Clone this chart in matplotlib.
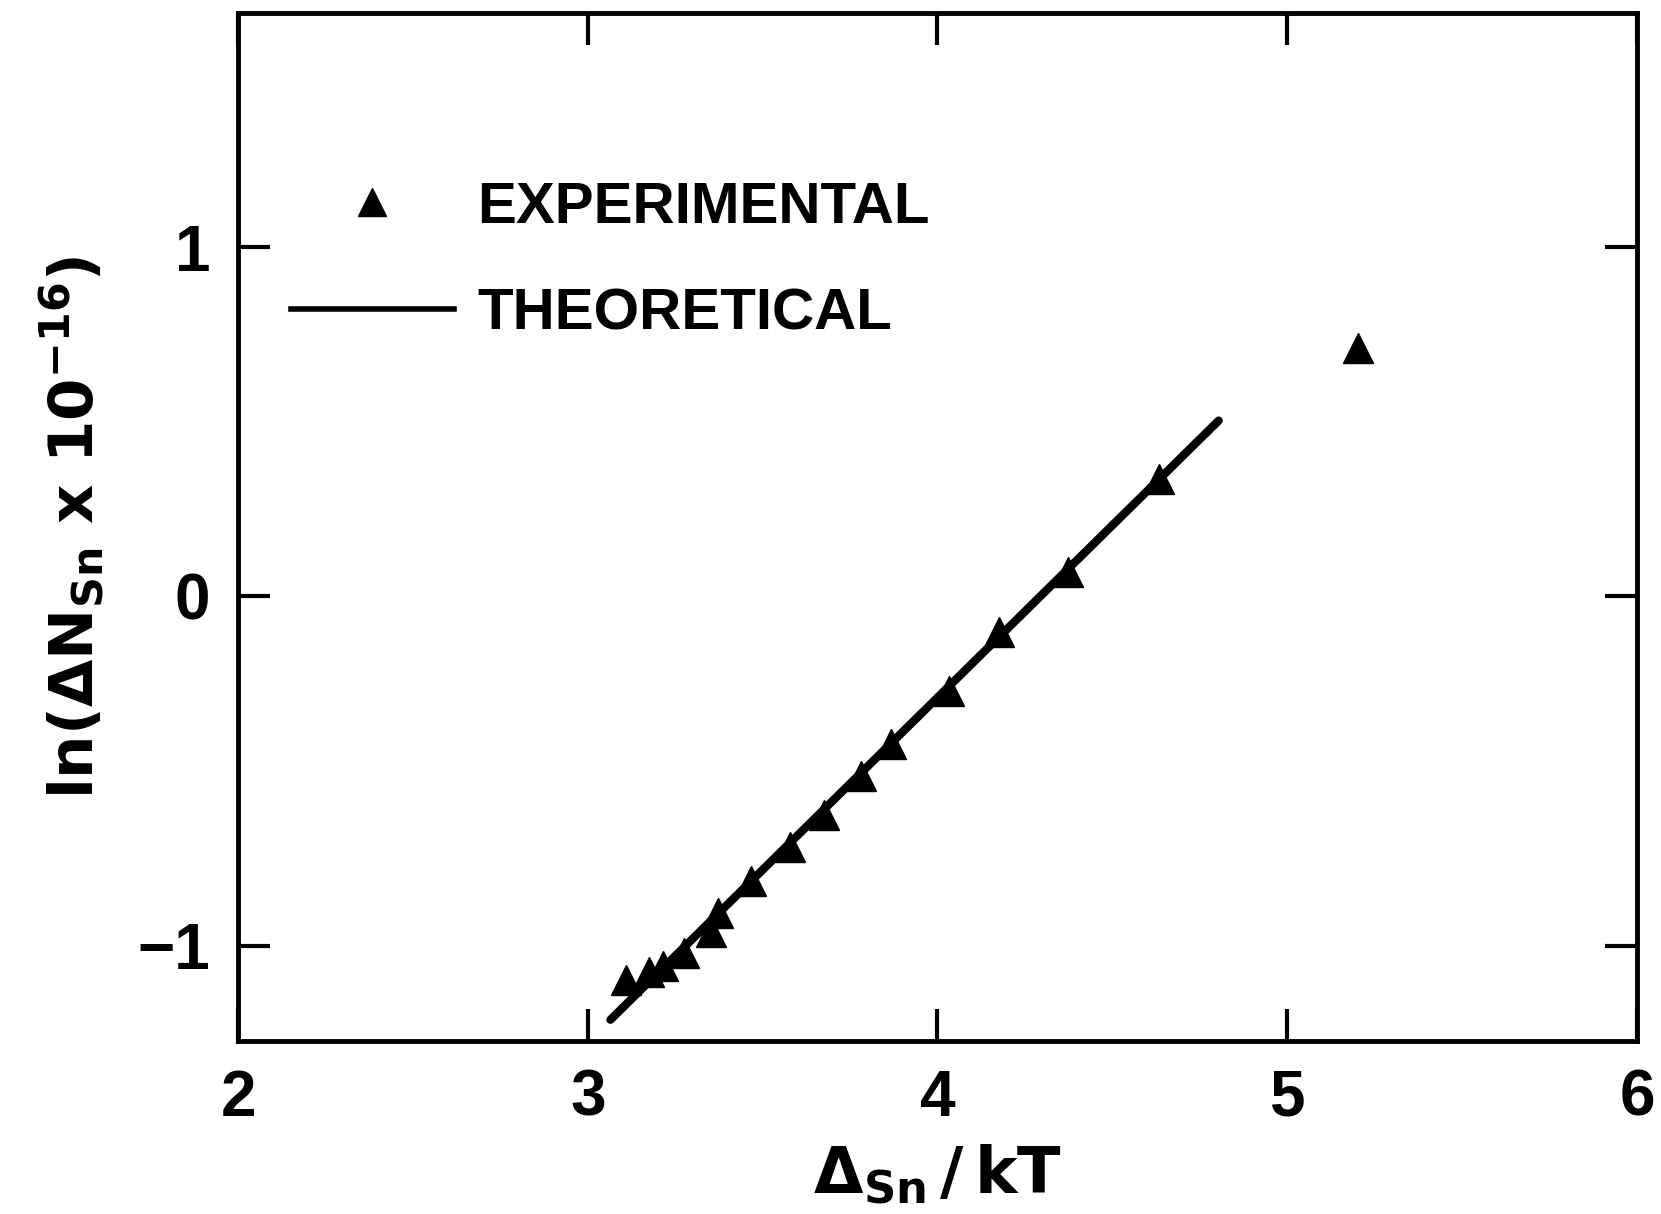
import matplotlib.pyplot as plt
from matplotlib.lines import Line2D

# measured points
delta_over_kt = [3.108, 3.175, 3.215, 3.276, 3.352, 3.373, 3.466, 3.578,
                 3.675, 3.782, 3.866, 4.033, 4.176, 4.373, 4.634, 5.202]
ln_dn = [-1.097, -1.076, -1.058, -1.021, -0.961, -0.906, -0.815, -0.718,
         -0.627, -0.515, -0.424, -0.270, -0.103, 0.070, 0.336, 0.712]

# theoretical line
theory_x = [3.065, 4.804]
theory_y = [-1.212, 0.503]

x_ticks = [2, 3, 4, 5, 6]
y_ticks = [-1, 0, 1]

plt.rcParams['font.family'] = ['Liberation Sans Narrow', 'Liberation Sans', 'DejaVu Sans']
plt.rcParams['font.weight'] = 'bold'
plt.rcParams['mathtext.fontset'] = 'custom'
plt.rcParams['mathtext.rm'] = 'Liberation Sans Narrow:bold'
plt.rcParams['mathtext.it'] = 'Liberation Sans Narrow:bold'

fig = plt.figure(figsize=(16.61, 12.14), dpi=100)
ax = fig.add_axes([0.1433, 0.1425, 0.8422, 0.8468])

ax.plot(theory_x, theory_y, color='black', lw=6, solid_capstyle='round')
ax.plot(delta_over_kt, ln_dn, linestyle='none', marker='^', markersize=21,
        color='black')

ax.set_xlim(2, 6)
ax.set_ylim(-1.273, 1.67)
ax.set_xticks(x_ticks)
ax.set_yticks(y_ticks)
ax.set_yticklabels(['\u22121', '0', '1'])

for side in ax.spines.values():
    side.set_linewidth(3.5)
ax.tick_params(direction='in', top=True, right=True, length=23, width=3,
               labelsize=46)
ax.tick_params(axis='x', pad=20)
ax.tick_params(axis='y', pad=20)

ax.set_xlabel(r'$\Delta_{\rm Sn}\,/\,\rm kT$', fontsize=46, labelpad=10)
ax.set_ylabel(r'$\rm ln(\Delta N_{Sn}\ x\ 10^{-16})$',
              fontsize=44, labelpad=22)

handles = [
    Line2D([], [], linestyle='none', marker='^', markersize=20, color='black'),
    Line2D([], [], color='black', lw=4),
]
ax.legend(handles, ['EXPERIMENTAL', 'THEORETICAL'], loc='upper left',
          bbox_to_anchor=(0.0, 0.888), frameon=False, fontsize=42,
          handlelength=2.8, handletextpad=0.4, labelspacing=0.9)

fig.savefig('out.png', dpi=100)
